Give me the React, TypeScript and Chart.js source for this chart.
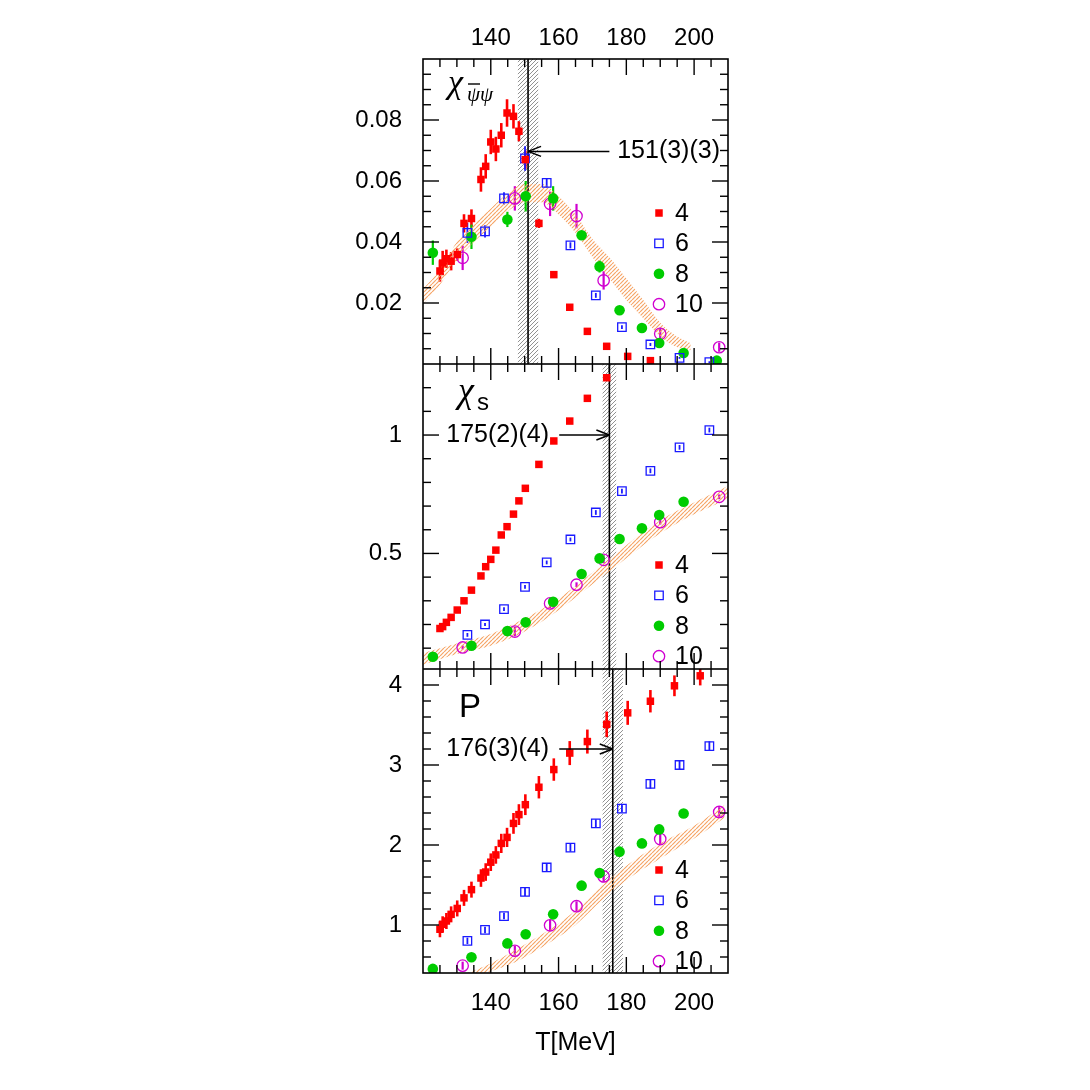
import React, { useEffect, useRef } from "react";
import { Chart, registerables } from "chart.js";

Chart.register(...registerables);

// ---------- shared axis ----------
const T_MIN = 120;
const T_MAX = 210;
const T_LABEL_TICKS = [140, 160, 180, 200];
const T_MINOR_STEP = 5;
const X_TITLE = "T[MeV]";
const NT_NAMES = ["4", "6", "8", "10"];
const FONT = '"Liberation Sans", Arial, Helvetica, sans-serif';

// ---------- temperatures (MeV) per N_t ----------
const T_NT4 = [125, 125.8, 126.9, 128.3, 130.1, 132.1, 134.3, 137.1, 138.5, 140, 141.5, 143.1, 144.8, 146.7, 148.3, 150.2, 154.2, 158.6, 163.3, 168.5, 174.2, 180.4, 187.1, 194.2, 201.8];
const T_NT6 = [133.1, 138.3, 143.9, 150.1, 156.5, 163.5, 171, 178.7, 187.1, 195.7, 204.5];
const T_NT8 = [122.9, 134.3, 144.9, 150.3, 158.4, 166.8, 172.1, 178, 184.6, 189.7, 196.9, 206.7];
const T_NT10 = [131.7, 147.1, 157.5, 165.3, 173.3, 190, 207.4];

// ---------- panel 1: chiral susceptibility ----------
const CHI_NT4 = [0.0305, 0.0331, 0.0345, 0.0337, 0.0359, 0.0461, 0.0477, 0.0605, 0.0648, 0.0728, 0.0705, 0.075, 0.0823, 0.0812, 0.0763, 0.067, 0.0461, 0.0293, 0.0186, 0.0107, 0.0058, 0.0025, 0.0011, null, null];
const CHI_NT4_ERR = [0.0035, 0.004, 0.003, 0.003, 0.002, 0.003, 0.003, 0.004, 0.004, 0.004, 0.004, 0.004, 0.0045, 0.004, 0.0033, 0.003, 0.0015, 0.001, 0.0008, 0.0006, 0.0004, 0.0003, 0.0003, 0, 0];
const CHI_NT6 = [0.043, 0.0435, 0.0543, 0.0674, 0.0594, 0.0389, 0.0225, 0.0121, 0.0064, 0.002, 0.0006];
const CHI_NT6_ERR = [0.0033, 0.002, 0.002, 0.004, 0.0015, 0.001, 0.0008, 0.0006, 0.0005, 0.0003, 0.0003];
const CHI_NT8 = [0.0365, 0.0417, 0.0474, 0.055, 0.0543, 0.0422, 0.032, 0.0176, 0.0118, 0.0069, 0.0036, 0.0011];
const CHI_NT8_ERR = [0.004, 0.004, 0.0025, 0.005, 0.004, 0.001, 0.002, 0.0012, 0.0008, 0.0005, 0.0004, 0.0003];
const CHI_NT10 = [0.0348, 0.0543, 0.0525, 0.0485, 0.0274, 0.0099, 0.0055];
const CHI_NT10_ERR = [0.004, 0.004, 0.004, 0.004, 0.003, 0.002, 0.0015];
const CHI_BAND_T = [120, 125, 130, 135, 140, 145, 150, 155, 160, 165, 170, 175, 180, 185, 190, 195, 199];
const CHI_BAND_LO = [0.0195, 0.026, 0.034, 0.04, 0.045, 0.05, 0.053, 0.053, 0.049, 0.043, 0.035, 0.028, 0.021, 0.015, 0.009, 0.0055, 0.0045];
const CHI_BAND_HI = [0.0245, 0.031, 0.04, 0.046, 0.051, 0.056, 0.059, 0.059, 0.055, 0.049, 0.041, 0.035, 0.028, 0.021, 0.0135, 0.009, 0.0068];
const CHI_Y_LABELS = [0.02, 0.04, 0.06, 0.08];
const CHI_TC = [151, 148, 154];
const CHI_TC_TEXT = "151(3)(3)";

// ---------- panel 2: strange quark number susceptibility ----------
const CHIS_NT4 = [0.183, 0.191, 0.209, 0.23, 0.261, 0.3, 0.345, 0.405, 0.444, 0.475, 0.514, 0.578, 0.613, 0.666, 0.722, 0.775, 0.876, 0.975, 1.059, 1.155, 1.242, null, null, null, null];
const CHIS_NT6 = [0.156, 0.2, 0.265, 0.359, 0.462, 0.559, 0.673, 0.763, 0.849, 0.948, 1.021];
const CHIS_NT6_ERR = [0.008, 0.006, 0.008, 0.008, 0.008, 0.008, 0.01, 0.01, 0.01, 0.01, 0.01];
const CHIS_NT8 = [0.064, 0.11, 0.172, 0.209, 0.296, 0.413, 0.479, 0.561, 0.606, 0.662, 0.718, null];
const CHIS_NT10 = [0.103, 0.17, 0.289, 0.368, 0.473, 0.632, 0.739];
const CHIS_NT10_ERR = [0.008, 0.02, 0.02, 0.01, 0.015, 0.01, 0.01];
const CHIS_BAND_T = [120, 130, 140, 150, 160, 170, 180, 190, 200, 210];
const CHIS_BAND_LO = [0.03, 0.075, 0.11, 0.17, 0.26, 0.37, 0.48, 0.585, 0.665, 0.73];
const CHIS_BAND_HI = [0.08, 0.12, 0.16, 0.225, 0.31, 0.42, 0.535, 0.64, 0.715, 0.785];
const CHIS_Y_LABELS = [0.5, 1];
const CHIS_TC = [175, 173, 177];
const CHIS_TC_TEXT = "175(2)(4)";

// ---------- panel 3: Polyakov loop ----------
const P_NT4 = [0.947, 1.009, 1.05, 1.133, 1.207, 1.339, 1.442, 1.587, 1.662, 1.785, 1.876, 2.02, 2.095, 2.27, 2.38, 2.504, 2.722, 2.943, 3.149, 3.293, 3.508, 3.652, 3.797, 3.99, 4.115];
const P_NT4_ERR = [0.1, 0.1, 0.1, 0.1, 0.1, 0.1, 0.1, 0.11, 0.11, 0.11, 0.11, 0.12, 0.12, 0.13, 0.13, 0.13, 0.14, 0.14, 0.15, 0.15, 0.16, 0.15, 0.14, 0.13, 0.12];
const P_NT6 = [0.802, 0.938, 1.112, 1.414, 1.719, 1.967, 2.27, 2.455, 2.765, 3.0, 3.236];
const P_NT6_ERR = [0.04, 0.04, 0.04, 0.05, 0.05, 0.05, 0.05, 0.05, 0.06, 0.06, 0.06];
const P_NT8 = [0.451, 0.596, 0.77, 0.885, 1.133, 1.492, 1.649, 1.917, 2.02, 2.195, 2.393, null];
const P_NT10 = [0.492, 0.678, 0.996, 1.235, 1.607, 2.074, 2.413];
const P_NT10_ERR = [0.05, 0.06, 0.07, 0.06, 0.07, 0.07, 0.06];
const P_BAND_T = [132, 140, 147, 155, 160, 165, 173, 180, 190, 200, 209];
const P_BAND_LO = [0.3, 0.42, 0.53, 0.72, 0.85, 1.0, 1.32, 1.56, 1.83, 2.08, 2.34];
const P_BAND_HI = [0.38, 0.52, 0.68, 0.88, 1.02, 1.18, 1.5, 1.74, 2.02, 2.24, 2.5];
const P_Y_LABELS = [1, 2, 3, 4];
const P_TC = [176, 173, 179];
const P_TC_TEXT = "176(3)(4)";

// ---------- styles ----------
const MARKERS = [
  { color: "#ff0000", shape: "rect", filled: true, r: 5.3, errW: 2.6 },
  { color: "#1a1aff", shape: "rect", filled: false, r: 6.0, errW: 1.8 },
  { color: "#00cc00", shape: "circle", filled: true, r: 5.3, errW: 2.2 },
  { color: "#d000d0", shape: "circle", filled: false, r: 5.7, errW: 2.2 },
];

function pts(xs, ys, errs) {
  const out = [];
  xs.forEach((x, i) => {
    const y = ys[i];
    if (y === null || y === undefined) return;
    out.push({ x, y, err: errs ? errs[i] : 0 });
  });
  return out;
}

const PANELS = [
  {
    key: "chi",
    canvasTop: 0, canvasH: 364, topAxisH: 59, bottomAxisH: 0,
    yMin: 0, yMax: 0.1, yLabels: CHI_Y_LABELS, yMinor: 0.005,
    series: [
      pts(T_NT4, CHI_NT4, CHI_NT4_ERR),
      pts(T_NT6, CHI_NT6, CHI_NT6_ERR),
      pts(T_NT8, CHI_NT8, CHI_NT8_ERR),
      pts(T_NT10, CHI_NT10, CHI_NT10_ERR),
    ],
    band: [CHI_BAND_T, CHI_BAND_LO, CHI_BAND_HI],
    tc: CHI_TC, tcText: CHI_TC_TEXT,
    arrow: { y: 0.0697, from: 175, to: 151 }, textAt: { x: 177.3, align: "left" },
    legendTop: 154,
  },
  {
    key: "chis",
    canvasTop: 364, canvasH: 305, topAxisH: 0, bottomAxisH: 0,
    yMin: 0.012, yMax: 1.3, yLabels: CHIS_Y_LABELS, yMinor: 0.1,
    series: [
      pts(T_NT4, CHIS_NT4, null),
      pts(T_NT6, CHIS_NT6, CHIS_NT6_ERR),
      pts(T_NT8, CHIS_NT8, null),
      pts(T_NT10, CHIS_NT10, CHIS_NT10_ERR),
    ],
    band: [CHIS_BAND_T, CHIS_BAND_LO, CHIS_BAND_HI],
    tc: CHIS_TC, tcText: CHIS_TC_TEXT,
    arrow: { y: 1.0, from: 160.2, to: 175 }, textAt: { x: 157.2, align: "right" },
    legendTop: 201,
  },
  {
    key: "p",
    canvasTop: 669, canvasH: 411, topAxisH: 0, bottomAxisH: 107,
    yMin: 0.4, yMax: 4.2, yLabels: P_Y_LABELS, yMinor: 0.2,
    series: [
      pts(T_NT4, P_NT4, P_NT4_ERR),
      pts(T_NT6, P_NT6, P_NT6_ERR),
      pts(T_NT8, P_NT8, null),
      pts(T_NT10, P_NT10, P_NT10_ERR),
    ],
    band: [P_BAND_T, P_BAND_LO, P_BAND_HI],
    tc: P_TC, tcText: P_TC_TEXT,
    arrow: { y: 3.2, from: 160.2, to: 176 }, textAt: { x: 157.2, align: "right" },
    legendTop: 201,
  },
];

// tiles are kept alive at module level so the patterns stay valid
const TILES = {};
function hatchTile(name, color, size, lw) {
  if (!TILES[name]) {
    const c = document.createElement("canvas");
    c.width = size;
    c.height = size;
    const g = c.getContext("2d");
    g.strokeStyle = color;
    g.lineWidth = lw;
    g.beginPath();
    for (let k = -1; k <= 1; k++) {
      g.moveTo(k * size, size);
      g.lineTo(k * size + size, 0);
    }
    g.stroke();
    TILES[name] = c;
  }
  return TILES[name];
}
function hatchFor(ctx, name, color, size, lw) {
  return ctx.createPattern(hatchTile(name, color, size, lw), "repeat");
}

function drawMarker(ctx, m, x, y) {
  ctx.save();
  ctx.beginPath();
  if (m.shape === "rect") {
    const h = m.r * Math.SQRT1_2;
    ctx.rect(x - h, y - h, 2 * h, 2 * h);
  } else {
    ctx.arc(x, y, m.r, 0, Math.PI * 2);
  }
  if (m.filled) {
    ctx.fillStyle = m.color;
    ctx.fill();
  } else {
    ctx.strokeStyle = m.color;
    ctx.lineWidth = 1.3;
    ctx.stroke();
  }
  ctx.restore();
}

function seg(ctx, x0, y0, x1, y1) {
  ctx.beginPath();
  ctx.moveTo(x0, y0);
  ctx.lineTo(x1, y1);
  ctx.stroke();
}

function drawTitle(ctx, key, a) {
  ctx.save();
  ctx.fillStyle = "#000";
  ctx.textBaseline = "alphabetic";
  ctx.textAlign = "left";
  if (key === "chi") {
    ctx.font = 'italic 34px "Liberation Serif", serif';
    ctx.fillText("χ", a.left + 25, a.top + 34);
    ctx.font = 'italic 21px "Liberation Serif", serif';
    ctx.fillText("ψψ", a.left + 44, a.top + 42);
    ctx.strokeStyle = "#000";
    ctx.lineWidth = 1.4;
    seg(ctx, a.left + 45, a.top + 25, a.left + 57, a.top + 25);
  } else if (key === "chis") {
    ctx.font = 'italic 36px "Liberation Serif", serif';
    ctx.fillText("χ", a.left + 35, a.top + 38);
    ctx.font = "24px " + FONT;
    ctx.fillText("s", a.left + 54, a.top + 46);
  } else {
    ctx.font = "33px " + FONT;
    ctx.fillText("P", a.left + 36, a.top + 48);
  }
  ctx.restore();
}

function decorPlugin(p) {
  return {
    id: "decor_" + p.key,
    beforeDatasetsDraw(chart) {
      const { ctx, chartArea: a, scales } = chart;
      const xs = scales.x;
      const ys = scales.y;
      ctx.save();
      ctx.beginPath();
      ctx.rect(a.left, a.top, a.right - a.left, a.bottom - a.top);
      ctx.clip();
      const x0 = xs.getPixelForValue(p.tc[1]);
      const x1 = xs.getPixelForValue(p.tc[2]);
      ctx.fillStyle = hatchFor(ctx, "gray", "rgba(60,60,60,0.8)", 4, 0.7);
      ctx.fillRect(x0, a.top, x1 - x0, a.bottom - a.top);
      const xc = xs.getPixelForValue(p.tc[0]);
      ctx.strokeStyle = "#000";
      ctx.lineWidth = 1.6;
      seg(ctx, xc, a.top, xc, a.bottom);
      // error bars
      chart.data.datasets.forEach((ds) => {
        if (ds.markerIndex === undefined) return;
        const m = MARKERS[ds.markerIndex];
        ctx.strokeStyle = m.color;
        ctx.lineWidth = m.errW;
        ds.data.forEach((d) => {
          if (!d.err) return;
          const px = xs.getPixelForValue(d.x);
          seg(ctx, px, ys.getPixelForValue(d.y + d.err), px, ys.getPixelForValue(d.y - d.err));
        });
      });
      ctx.restore();
    },
    afterDatasetsDraw(chart) {
      const { ctx, chartArea: a, scales } = chart;
      const xs = scales.x;
      const ys = scales.y;
      ctx.save();
      const ay = ys.getPixelForValue(p.arrow.y);
      const ax0 = xs.getPixelForValue(p.arrow.from);
      const ax1 = xs.getPixelForValue(p.arrow.to);
      ctx.strokeStyle = "#000";
      ctx.lineWidth = 1.5;
      seg(ctx, ax0, ay, ax1, ay);
      const dir = ax1 > ax0 ? -1 : 1;
      seg(ctx, ax1, ay, ax1 + dir * 13, ay - 5);
      seg(ctx, ax1, ay, ax1 + dir * 13, ay + 5);
      ctx.fillStyle = "#000";
      ctx.font = "25px " + FONT;
      ctx.textBaseline = "middle";
      ctx.textAlign = p.textAt.align;
      ctx.fillText(p.tcText, xs.getPixelForValue(p.textAt.x), ay);
      NT_NAMES.forEach((name, i) => {
        const ly = a.top + p.legendTop + i * 30.4;
        drawMarker(ctx, MARKERS[i], a.left + 236, ly);
        ctx.fillStyle = "#000";
        ctx.font = "25px " + FONT;
        ctx.textAlign = "left";
        ctx.textBaseline = "middle";
        ctx.fillText(name, a.left + 252, ly + 1);
      });
      drawTitle(ctx, p.key, a);
      ctx.restore();
    },
    afterDraw(chart) {
      const { ctx, chartArea: a, scales } = chart;
      const xs = scales.x;
      const ys = scales.y;
      ctx.save();
      ctx.strokeStyle = "#000";
      ctx.lineWidth = 1.6;
      ctx.strokeRect(a.left, a.top, a.right - a.left, a.bottom - a.top);
      ctx.lineWidth = 1.4;
      for (let k = Math.ceil(T_MIN / T_MINOR_STEP); k * T_MINOR_STEP < T_MAX; k++) {
        const v = k * T_MINOR_STEP;
        if (v <= T_MIN) continue;
        const len = T_LABEL_TICKS.includes(v) ? 16 : 8;
        const px = xs.getPixelForValue(v);
        seg(ctx, px, a.bottom, px, a.bottom - len);
        seg(ctx, px, a.top, px, a.top + len);
      }
      for (let k = Math.ceil(p.yMin / p.yMinor - 1e-6); k * p.yMinor < p.yMax - 1e-6; k++) {
        const v = k * p.yMinor;
        if (v <= p.yMin + 1e-9) continue;
        const major = p.yLabels.some((l) => Math.abs(l - v) < 1e-6);
        const len = major ? 16 : 8;
        const py = ys.getPixelForValue(v);
        seg(ctx, a.left, py, a.left + len, py);
        seg(ctx, a.right, py, a.right - len, py);
      }
      ctx.restore();
    },
  };
}

function buildConfig(p, canvas) {
  const cctx = canvas.getContext("2d");
  const orangeHatch = hatchFor(cctx, "orange", "rgba(246,160,95,0.95)", 4, 1.2);
  const datasets = p.series.map((data, i) => {
    const m = MARKERS[i];
    return {
      label: NT_NAMES[i],
      data,
      markerIndex: i,
      order: 0,
      showLine: false,
      pointStyle: m.shape === "rect" ? "rect" : "circle",
      pointRadius: m.r,
      pointHoverRadius: m.r,
      pointBackgroundColor: m.filled ? m.color : "rgba(0,0,0,0)",
      pointBorderColor: m.color,
      pointBorderWidth: m.filled ? 0 : 1.3,
      backgroundColor: m.color,
      borderColor: m.color,
    };
  });
  const [bt, blo, bhi] = p.band;
  datasets.push({
    type: "line",
    label: "band-hi",
    data: bt.map((t, i) => ({ x: t, y: bhi[i] })),
    order: 10,
    showLine: true,
    borderWidth: 0,
    borderColor: "rgba(0,0,0,0)",
    pointRadius: 0,
    fill: false,
    cubicInterpolationMode: "monotone",
  });
  datasets.push({
    type: "line",
    label: "band-lo",
    data: bt.map((t, i) => ({ x: t, y: blo[i] })),
    order: 10,
    showLine: true,
    borderWidth: 0,
    borderColor: "rgba(0,0,0,0)",
    backgroundColor: orangeHatch,
    pointRadius: 0,
    fill: { target: "-1", above: orangeHatch, below: orangeHatch },
    cubicInterpolationMode: "monotone",
  });

  const tickFont = { family: FONT, size: 24 };
  const titleFont = { family: FONT, size: 25 };
  const scales = {
    x: {
      type: "linear",
      position: "bottom",
      min: T_MIN,
      max: T_MAX,
      afterBuildTicks: (s) => {
        s.ticks = T_LABEL_TICKS.map((v) => ({ value: v }));
      },
      afterFit: (s) => {
        s.height = p.bottomAxisH;
        s.paddingLeft = 0;
        s.paddingRight = 0;
      },
      grid: { display: false, drawTicks: false },
      border: { display: false },
      ticks: { display: p.bottomAxisH > 0, padding: 16, maxRotation: 0, autoSkip: false, color: "#000", font: tickFont, callback: (v) => String(v) },
      title: { display: p.bottomAxisH > 0, text: X_TITLE, color: "#000", font: titleFont, padding: { top: 0, bottom: 22 } },
    },
    y: {
      type: "linear",
      position: "left",
      min: p.yMin,
      max: p.yMax,
      afterBuildTicks: (s) => {
        s.ticks = p.yLabels.map((v) => ({ value: v }));
      },
      afterFit: (s) => {
        s.width = 100;
        s.paddingTop = 0;
        s.paddingBottom = 0;
      },
      grid: { display: false, drawTicks: false },
      border: { display: false },
      ticks: { padding: 21, color: "#000", font: tickFont, callback: (v) => String(v) },
    },
  };
  if (p.topAxisH > 0) {
    scales.xt = {
      type: "linear",
      position: "top",
      min: T_MIN,
      max: T_MAX,
      afterBuildTicks: (s) => {
        s.ticks = T_LABEL_TICKS.map((v) => ({ value: v }));
      },
      afterFit: (s) => {
        s.height = p.topAxisH;
        s.paddingLeft = 0;
        s.paddingRight = 0;
      },
      grid: { display: false, drawTicks: false },
      border: { display: false },
      ticks: { padding: 6, maxRotation: 0, autoSkip: false, color: "#000", font: tickFont, callback: (v) => String(v) },
    };
  }

  return {
    type: "scatter",
    data: { datasets },
    options: {
      responsive: false,
      maintainAspectRatio: false,
      animation: false,
      events: [],
      layout: { autoPadding: false, padding: { left: 323, right: 362, top: 0, bottom: 0 } },
      plugins: { legend: { display: false }, tooltip: { enabled: false } },
      scales,
    },
    plugins: [decorPlugin(p)],
  };
}

export default function App() {
  const r0 = useRef(null);
  const r1 = useRef(null);
  const r2 = useRef(null);
  const refs = [r0, r1, r2];
  useEffect(() => {
    const charts = PANELS.map((p, i) => new Chart(refs[i].current, buildConfig(p, refs[i].current)));
    return () => charts.forEach((c) => c.destroy());
  }, []);
  return (
    <div style={{ position: "absolute", left: 0, top: 0, width: 1090, height: 1080, background: "#fff", overflow: "hidden" }}>
      {PANELS.map((p, i) => (
        <canvas
          key={p.key}
          ref={refs[i]}
          width={1090}
          height={p.canvasH}
          style={{ position: "absolute", left: 0, top: p.canvasTop, width: 1090, height: p.canvasH, display: "block" }}
        />
      ))}
    </div>
  );
}
